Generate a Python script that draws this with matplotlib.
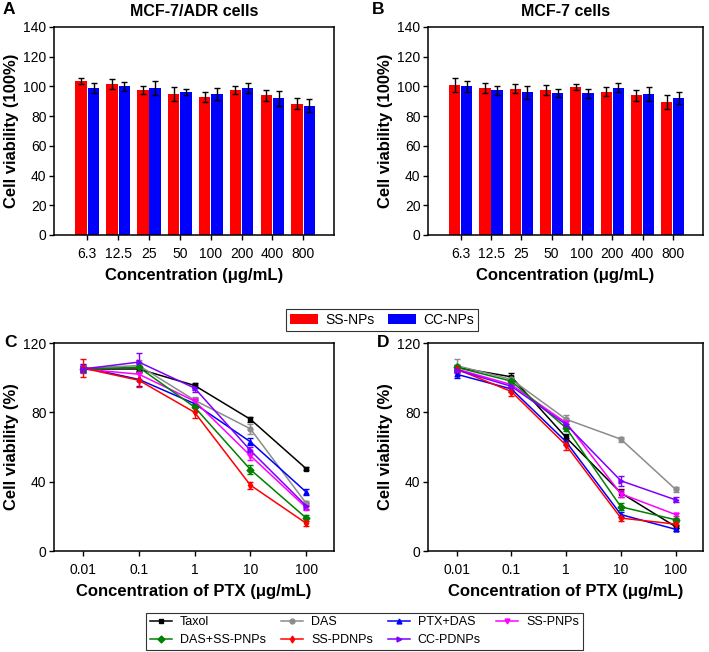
import numpy as np
import matplotlib
matplotlib.use("Agg")
import matplotlib.pyplot as plt
from matplotlib.patches import Patch
from matplotlib.lines import Line2D

plt.rcParams['font.family'] = ['Liberation Sans', 'DejaVu Sans']

# ---- data: bar panels (A, B) ----
conc_labels = ["6.3", "12.5", "25", "50", "100", "200", "400", "800"]

adr_ss = [103.5, 101.5, 97.5, 95.0, 93.0, 97.5, 94.0, 88.5]
adr_ss_err = [2.0, 3.5, 2.5, 4.5, 3.5, 2.5, 3.5, 4.0]
adr_cc = [99.0, 100.0, 99.0, 96.5, 95.0, 99.0, 92.0, 87.0]
adr_cc_err = [3.5, 3.0, 4.5, 2.0, 4.0, 3.5, 5.0, 4.5]

mcf_ss = [101.0, 99.0, 98.5, 97.5, 99.5, 96.5, 94.0, 89.5]
mcf_ss_err = [5.0, 3.5, 3.0, 3.5, 2.0, 3.0, 3.5, 4.5]
mcf_cc = [100.0, 97.5, 96.0, 95.5, 95.5, 99.0, 95.0, 92.0]
mcf_cc_err = [3.5, 3.0, 4.5, 2.5, 3.0, 3.0, 4.5, 4.0]

# ---- data: line panels (C, D) ----
ptx_conc = [0.01, 0.1, 1, 10, 100]
ptx_labels = ["0.01", "0.1", "1", "10", "100"]
series_names = ["Taxol", "DAS", "PTX+DAS", "SS-PNPs", "DAS+SS-PNPs", "SS-PDNPs", "CC-PDNPs"]
series_colors = ["#000000", "#8c8c8c", "#0000ff", "#ff00ff", "#008000", "#ff0000", "#7f00ff"]
series_markers = ["s", "o", "^", "v", "D", "d", ">"]

adr_vals = {
    "Taxol":       [105.0, 105.0, 95.5, 76.0, 47.5],
    "DAS":         [105.5, 107.0, 87.0, 70.5, 27.5],
    "PTX+DAS":     [106.0, 99.0, 85.0, 63.0, 34.0],
    "SS-PNPs":     [105.0, 102.0, 86.5, 55.0, 25.0],
    "DAS+SS-PNPs": [105.0, 106.0, 83.0, 47.0, 19.0],
    "SS-PDNPs":    [105.5, 98.5, 80.0, 38.0, 16.0],
    "CC-PDNPs":    [105.0, 109.0, 94.0, 58.0, 26.0],
}
adr_errs = {
    "Taxol":       [1.5, 2.0, 1.5, 1.5, 1.0],
    "DAS":         [2.0, 3.0, 2.0, 3.0, 1.5],
    "PTX+DAS":     [2.0, 4.0, 2.0, 2.0, 1.5],
    "SS-PNPs":     [2.5, 3.0, 2.0, 2.5, 1.5],
    "DAS+SS-PNPs": [2.0, 2.5, 2.0, 2.5, 1.5],
    "SS-PDNPs":    [5.0, 4.0, 3.0, 2.0, 1.5],
    "CC-PDNPs":    [2.0, 5.0, 2.0, 2.0, 1.5],
}
mcf_vals = {
    "Taxol":       [106.0, 100.5, 65.5, 33.5, 14.0],
    "DAS":         [107.0, 99.0, 76.0, 64.5, 35.5],
    "PTX+DAS":     [102.0, 93.5, 63.0, 21.0, 12.5],
    "SS-PNPs":     [105.0, 96.0, 74.0, 33.0, 21.0],
    "DAS+SS-PNPs": [106.0, 98.0, 71.0, 25.5, 18.0],
    "SS-PDNPs":    [105.0, 92.0, 61.0, 19.0, 15.5],
    "CC-PDNPs":    [104.5, 95.0, 73.0, 40.5, 29.5],
}
mcf_errs = {
    "Taxol":       [1.5, 2.0, 2.0, 2.5, 1.0],
    "DAS":         [3.5, 2.0, 2.5, 1.5, 1.5],
    "PTX+DAS":     [2.0, 2.0, 2.0, 1.5, 1.0],
    "SS-PNPs":     [2.0, 2.0, 2.0, 2.0, 1.0],
    "DAS+SS-PNPs": [1.5, 2.0, 2.0, 2.0, 1.0],
    "SS-PDNPs":    [2.0, 2.5, 2.5, 1.5, 1.0],
    "CC-PDNPs":    [2.0, 2.0, 2.0, 3.0, 1.5],
}

fig = plt.figure(figsize=(7.09, 6.52), dpi=100)

ax_a = fig.add_axes([0.0762, 0.6396, 0.395, 0.319])
ax_b = fig.add_axes([0.6037, 0.6396, 0.388, 0.319])
ax_c = fig.add_axes([0.0762, 0.1549, 0.395, 0.319])
ax_d = fig.add_axes([0.6037, 0.1549, 0.388, 0.319])


def style_axes(ax):
    for s in ax.spines.values():
        s.set_linewidth(1.1)
    ax.tick_params(direction="out", length=3.5, width=1, labelsize=10)
    ax.tick_params(axis="x", pad=5)
    ax.tick_params(axis="y", pad=2)


def bar_panel(ax, ss, ss_err, cc, cc_err, title):
    x = np.arange(len(conc_labels))
    w = 0.37
    ekw = dict(ecolor="black", capsize=2.5, elinewidth=1, capthick=1)
    ax.bar(x - 0.2, ss, w, yerr=ss_err, color="#ff0000", error_kw=ekw)
    ax.bar(x + 0.2, cc, w, yerr=cc_err, color="#0000ff", error_kw=ekw)
    ax.set_xlim(-1.08, 8.0)
    ax.set_ylim(0, 140)
    ax.set_yticks(np.arange(0, 141, 20))
    ax.set_xticks(x)
    ax.set_xticklabels(conc_labels)
    ax.set_xlabel("Concentration (\u03bcg/mL)", fontsize=12, fontweight="bold", labelpad=5)
    ax.set_ylabel("Cell viability (100%)", fontsize=12, fontweight="bold", labelpad=3)
    ax.set_title(title, fontsize=11.5, fontweight="bold", pad=8)
    style_axes(ax)


def line_panel(ax, vals, errs):
    for name, col, mk in zip(series_names, series_colors, series_markers):
        ax.errorbar(ptx_conc, vals[name], yerr=errs[name], color=col, marker=mk,
                    markersize=3.5, linewidth=1.1, capsize=2.5, elinewidth=1,
                    capthick=1, label=name)
    ax.set_xscale("log")
    ax.set_xlim(10 ** -2.52, 10 ** 2.5)
    ax.set_xticks(ptx_conc)
    ax.set_xticklabels(ptx_labels)
    ax.minorticks_off()
    ax.set_ylim(0, 120)
    ax.set_yticks([0, 40, 80, 120])
    ax.set_xlabel("Concentration of PTX (\u03bcg/mL)", fontsize=12, fontweight="bold", labelpad=5)
    ax.set_ylabel("Cell viability (%)", fontsize=12, fontweight="bold", labelpad=3)
    style_axes(ax)


bar_panel(ax_a, adr_ss, adr_ss_err, adr_cc, adr_cc_err, "MCF-7/ADR cells")
bar_panel(ax_b, mcf_ss, mcf_ss_err, mcf_cc, mcf_cc_err, "MCF-7 cells")
line_panel(ax_c, adr_vals, adr_errs)
line_panel(ax_d, mcf_vals, mcf_errs)

# panel letters
for lab, xx, yy in [("A", 0.004, 0.997), ("B", 0.525, 0.997), ("C", 0.006, 0.486), ("D", 0.531, 0.486)]:
    fig.text(xx, yy, lab, fontsize=12.5, fontweight="bold", va="top", ha="left")

# legend for bar panels
bar_handles = [Patch(facecolor="#ff0000"), Patch(facecolor="#0000ff")]
leg1 = fig.legend(bar_handles, ["SS-NPs", "CC-NPs"], loc="center", bbox_to_anchor=(0.539, 0.509),
                  ncol=2, fontsize=10, frameon=True, fancybox=False, edgecolor="black",
                  handlelength=2.0, handleheight=0.75, columnspacing=1.0, handletextpad=0.5,
                  borderpad=0.3)
leg1.get_frame().set_linewidth(0.8)

# legend for line panels (row-major order)
line_handles = [Line2D([], [], color=c, marker=m, markersize=3.5, linewidth=1.1)
                for c, m in zip(series_colors, series_markers)]
order = [0, 4, 1, 5, 2, 6, 3]
leg2 = fig.legend([line_handles[i] for i in order], [series_names[i] for i in order], loc="center",
                  bbox_to_anchor=(0.514, 0.032), ncol=4, fontsize=9, frameon=True,
                  fancybox=False, edgecolor="black", handlelength=1.8, columnspacing=1.2,
                  handletextpad=0.6, borderpad=0.3, labelspacing=0.45)
leg2.get_frame().set_linewidth(0.8)

fig.savefig("out.png", dpi=100)
